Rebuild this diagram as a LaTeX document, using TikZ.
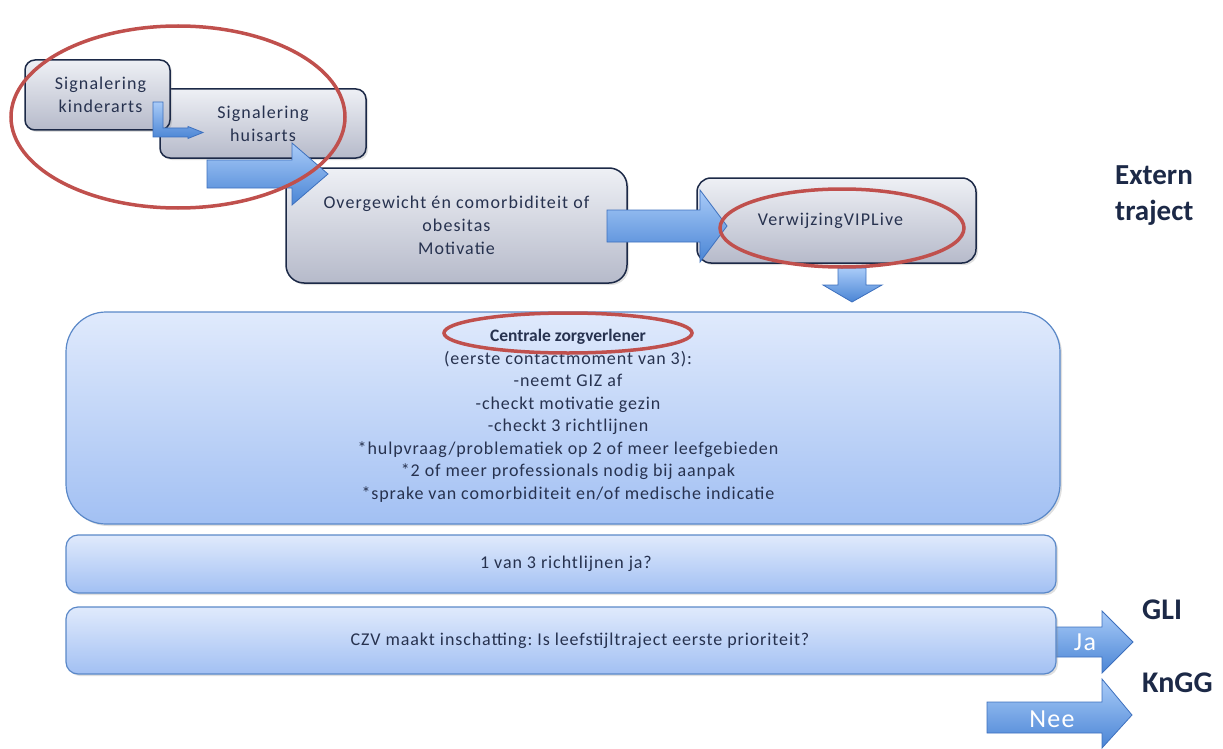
\documentclass[tikz,border=0pt]{standalone}
\usepackage{fontspec}
\setmainfont{Carlito}
\usetikzlibrary{shadows}
\frenchspacing
\definecolor{navy}{HTML}{1C2947}
\definecolor{txt}{HTML}{27324F}
\definecolor{grayTop}{HTML}{EEF0F5}
\definecolor{grayBot}{HTML}{B6BACA}
\definecolor{blueTop}{HTML}{E0EAFC}
\definecolor{blueBot}{HTML}{A2C0F3}
\definecolor{blueEdge}{HTML}{5A88C8}
\definecolor{arrTop}{HTML}{A9CBF8}
\definecolor{arrBot}{HTML}{4A85D5}
\definecolor{arrEdge}{HTML}{3D70BE}
\definecolor{ringred}{HTML}{C0504D}
\tikzset{
  graybox/.style={draw=navy, line width=1.5pt, top color=grayTop, bottom color=grayBot,
    text=txt, align=center, inner sep=0pt, drop shadow={opacity=0.25, shadow xshift=2pt, shadow yshift=-2pt},
    font=\fontsize{18}{23}\selectfont\addfontfeatures{LetterSpace=6}},
  bluebox/.style={draw=blueEdge, line width=1.2pt, top color=blueTop, bottom color=blueBot,
    text=txt, align=center, inner sep=0pt, drop shadow={opacity=0.25, shadow xshift=2pt, shadow yshift=-2pt},
    font=\fontsize{18}{22.5}\selectfont\addfontfeatures{LetterSpace=5}},
  blockarrow/.style={draw=arrEdge, line width=0.8pt, top color=arrTop, bottom color=arrBot, line join=miter},
  ring/.style={draw=ringred, line width=3.5pt},
  side/.style={text=navy, font=\fontsize{29}{36}\selectfont\bfseries, align=left, inner sep=0pt},
  arrlabel/.style={text=white, font=\fontsize{26}{28}\selectfont\addfontfeatures{LetterSpace=5}, inner sep=0pt}
}
\begin{document}
\begin{tikzpicture}[x=1pt,y=-1pt]
\useasboundingbox (0,0) rectangle (1223,749);

% boxes
\node[graybox, rounded corners=10pt, minimum width=206pt, minimum height=69pt] (hu) at (263,123.5) {Signalering\\huisarts};
\node[graybox, rounded corners=10pt, minimum width=145pt, minimum height=70pt] (ki) at (97.5,95) {\hspace*{6pt}Signalering\\\hspace*{6pt}kinderarts};
\node[graybox, rounded corners=18pt, minimum width=341pt, minimum height=115pt] (ov) at (456.5,225.5) {Overgewicht én comorbiditeit of\\obesitas\\Motivatie};
\node[graybox, rounded corners=14pt, minimum width=279pt, minimum height=85pt] (vip) at (836.5,220.5) {\hspace*{-12pt}VerwijzingVIPLive};

\node[bluebox, rounded corners=40pt, minimum width=994pt, minimum height=212pt] (czl) at (563,418) {};
\node[text=txt, align=center, font=\fontsize{18}{22.5}\selectfont\addfontfeatures{LetterSpace=5}] (czt) at (568,416)
 {{\fontsize{17.5}{22.5}\selectfont\bfseries\addfontfeatures{LetterSpace=0}Centrale zorgverlener}\\
  (eerste contactmoment van 3):\\
  -neemt GIZ af\\
  -checkt motivatie gezin\\
  -checkt 3 richtlijnen\\
  *hulpvraag/problematiek op 2 of meer leefgebieden\\
  *2 of meer professionals nodig bij aanpak\\
  *sprake van comorbiditeit en/of medische indicatie};

\node[bluebox, rounded corners=12pt, minimum width=990pt, minimum height=58pt] (rl) at (561,564) {\hspace*{10pt}1 van 3 richtlijnen ja?};

% Ja / Nee arrows
\draw[blockarrow] (1050,627) -- (1102,627) -- (1102,611) -- (1133,642) -- (1102,673) -- (1102,657) -- (1050,657) -- cycle;
\node[bluebox, rounded corners=12pt, minimum width=990pt, minimum height=67pt] (czv) at (561,640.5) {\hspace*{38pt}CZV maakt inschatting: Is leefstijltraject eerste prioriteit?};
\node[arrlabel] (ja) at (1085,642) {Ja};
\draw[blockarrow] (987,702) -- (1102,702) -- (1102,679) -- (1132,715) -- (1102,748) -- (1102,733) -- (987,733) -- cycle;
\node[arrlabel] (nee) at (1052,719) {Nee};

% block arrows
\draw[blockarrow] (153,102) -- (163,102) -- (163,128) -- (188,128) -- (188,126.5) -- (203,132.5) -- (188,138.5) -- (188,137) -- (153,137) -- cycle;
\draw[blockarrow] (207,160) -- (292,160) -- (292,143) -- (328,174) -- (292,205) -- (292,188) -- (207,188) -- cycle;
\draw[blockarrow] (607,210) -- (700,210) -- (700,190) -- (727,226) -- (700,262) -- (700,242) -- (607,242) -- cycle;
\draw[blockarrow] (838,268) -- (866,268) -- (866,285) -- (882,285) -- (852,302) -- (823,285) -- (838,285) -- cycle;

% red rings
\draw[ring] (178,117) ellipse [x radius=167, y radius=91];
\draw[ring] (842,228) ellipse [x radius=122, y radius=39];
\draw[ring] (568,333) ellipse [x radius=124, y radius=20];

% side labels
\node[side, anchor=west] (ext) at (1115,196) {Extern\\traject};
\node[side, anchor=west, font=\fontsize{30}{32}\selectfont\bfseries] (gli) at (1142,610) {GLI};
\node[side, anchor=west, font=\fontsize{30}{32}\selectfont\bfseries] (kngg) at (1142,683) {KnGG};
\end{tikzpicture}
\end{document}
